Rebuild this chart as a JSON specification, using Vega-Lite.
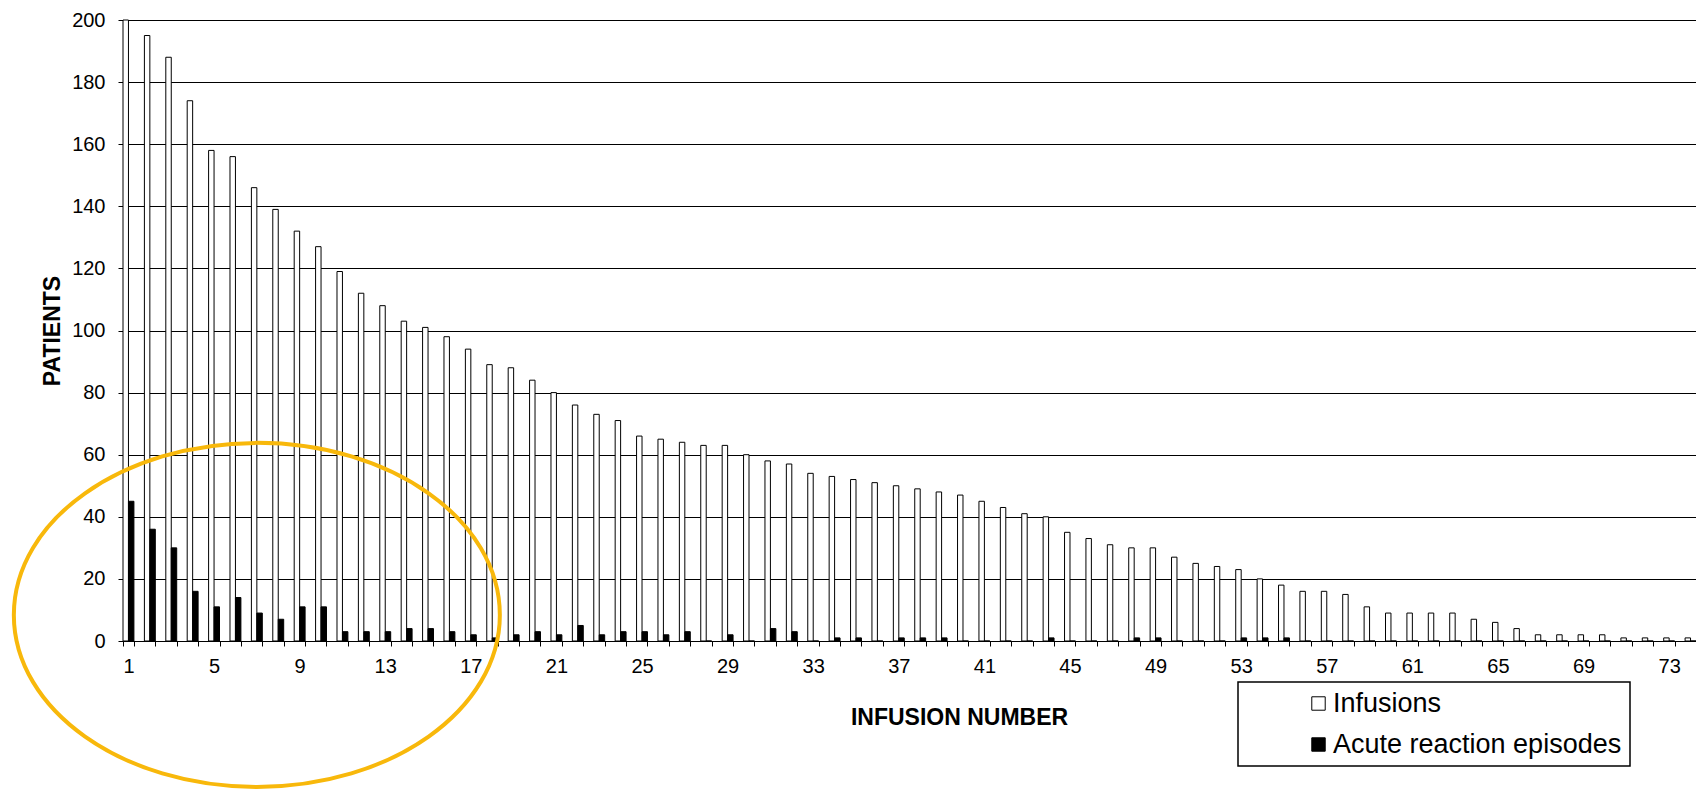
{
  "$schema": "https://vega.github.io/schema/vega-lite/v6.json",
  "width": 1573,
  "height": 621,
  "autosize": {"type": "none"},
  "padding": {"left": 123, "top": 20, "right": 0, "bottom": 150},
  "background": "white",
  "config": {
    "font": "Liberation Sans",
    "view": {"stroke": null},
    "axis": {"labelColor": "black", "titleColor": "black", "domainColor": "black", "tickColor": "black", "labelFont": "Liberation Sans", "titleFont": "Liberation Sans"}
  },
  "datasets": {
    "bars": [
      {"infusion": 1, "series": "Infusions", "patients": 200}, {"infusion": 1, "series": "Acute reaction episodes", "patients": 45},
      {"infusion": 2, "series": "Infusions", "patients": 195}, {"infusion": 2, "series": "Acute reaction episodes", "patients": 36},
      {"infusion": 3, "series": "Infusions", "patients": 188}, {"infusion": 3, "series": "Acute reaction episodes", "patients": 30},
      {"infusion": 4, "series": "Infusions", "patients": 174}, {"infusion": 4, "series": "Acute reaction episodes", "patients": 16},
      {"infusion": 5, "series": "Infusions", "patients": 158}, {"infusion": 5, "series": "Acute reaction episodes", "patients": 11},
      {"infusion": 6, "series": "Infusions", "patients": 156}, {"infusion": 6, "series": "Acute reaction episodes", "patients": 14},
      {"infusion": 7, "series": "Infusions", "patients": 146}, {"infusion": 7, "series": "Acute reaction episodes", "patients": 9},
      {"infusion": 8, "series": "Infusions", "patients": 139}, {"infusion": 8, "series": "Acute reaction episodes", "patients": 7},
      {"infusion": 9, "series": "Infusions", "patients": 132}, {"infusion": 9, "series": "Acute reaction episodes", "patients": 11},
      {"infusion": 10, "series": "Infusions", "patients": 127}, {"infusion": 10, "series": "Acute reaction episodes", "patients": 11},
      {"infusion": 11, "series": "Infusions", "patients": 119}, {"infusion": 11, "series": "Acute reaction episodes", "patients": 3},
      {"infusion": 12, "series": "Infusions", "patients": 112}, {"infusion": 12, "series": "Acute reaction episodes", "patients": 3},
      {"infusion": 13, "series": "Infusions", "patients": 108}, {"infusion": 13, "series": "Acute reaction episodes", "patients": 3},
      {"infusion": 14, "series": "Infusions", "patients": 103}, {"infusion": 14, "series": "Acute reaction episodes", "patients": 4},
      {"infusion": 15, "series": "Infusions", "patients": 101}, {"infusion": 15, "series": "Acute reaction episodes", "patients": 4},
      {"infusion": 16, "series": "Infusions", "patients": 98}, {"infusion": 16, "series": "Acute reaction episodes", "patients": 3},
      {"infusion": 17, "series": "Infusions", "patients": 94}, {"infusion": 17, "series": "Acute reaction episodes", "patients": 2},
      {"infusion": 18, "series": "Infusions", "patients": 89}, {"infusion": 18, "series": "Acute reaction episodes", "patients": 1},
      {"infusion": 19, "series": "Infusions", "patients": 88}, {"infusion": 19, "series": "Acute reaction episodes", "patients": 2},
      {"infusion": 20, "series": "Infusions", "patients": 84}, {"infusion": 20, "series": "Acute reaction episodes", "patients": 3},
      {"infusion": 21, "series": "Infusions", "patients": 80}, {"infusion": 21, "series": "Acute reaction episodes", "patients": 2},
      {"infusion": 22, "series": "Infusions", "patients": 76}, {"infusion": 22, "series": "Acute reaction episodes", "patients": 5},
      {"infusion": 23, "series": "Infusions", "patients": 73}, {"infusion": 23, "series": "Acute reaction episodes", "patients": 2},
      {"infusion": 24, "series": "Infusions", "patients": 71}, {"infusion": 24, "series": "Acute reaction episodes", "patients": 3},
      {"infusion": 25, "series": "Infusions", "patients": 66}, {"infusion": 25, "series": "Acute reaction episodes", "patients": 3},
      {"infusion": 26, "series": "Infusions", "patients": 65}, {"infusion": 26, "series": "Acute reaction episodes", "patients": 2},
      {"infusion": 27, "series": "Infusions", "patients": 64}, {"infusion": 27, "series": "Acute reaction episodes", "patients": 3},
      {"infusion": 28, "series": "Infusions", "patients": 63}, {"infusion": 28, "series": "Acute reaction episodes", "patients": 0},
      {"infusion": 29, "series": "Infusions", "patients": 63}, {"infusion": 29, "series": "Acute reaction episodes", "patients": 2},
      {"infusion": 30, "series": "Infusions", "patients": 60}, {"infusion": 30, "series": "Acute reaction episodes", "patients": 0},
      {"infusion": 31, "series": "Infusions", "patients": 58}, {"infusion": 31, "series": "Acute reaction episodes", "patients": 4},
      {"infusion": 32, "series": "Infusions", "patients": 57}, {"infusion": 32, "series": "Acute reaction episodes", "patients": 3},
      {"infusion": 33, "series": "Infusions", "patients": 54}, {"infusion": 33, "series": "Acute reaction episodes", "patients": 0},
      {"infusion": 34, "series": "Infusions", "patients": 53}, {"infusion": 34, "series": "Acute reaction episodes", "patients": 1},
      {"infusion": 35, "series": "Infusions", "patients": 52}, {"infusion": 35, "series": "Acute reaction episodes", "patients": 1},
      {"infusion": 36, "series": "Infusions", "patients": 51}, {"infusion": 36, "series": "Acute reaction episodes", "patients": 0},
      {"infusion": 37, "series": "Infusions", "patients": 50}, {"infusion": 37, "series": "Acute reaction episodes", "patients": 1},
      {"infusion": 38, "series": "Infusions", "patients": 49}, {"infusion": 38, "series": "Acute reaction episodes", "patients": 1},
      {"infusion": 39, "series": "Infusions", "patients": 48}, {"infusion": 39, "series": "Acute reaction episodes", "patients": 1},
      {"infusion": 40, "series": "Infusions", "patients": 47}, {"infusion": 40, "series": "Acute reaction episodes", "patients": 0},
      {"infusion": 41, "series": "Infusions", "patients": 45}, {"infusion": 41, "series": "Acute reaction episodes", "patients": 0},
      {"infusion": 42, "series": "Infusions", "patients": 43}, {"infusion": 42, "series": "Acute reaction episodes", "patients": 0},
      {"infusion": 43, "series": "Infusions", "patients": 41}, {"infusion": 43, "series": "Acute reaction episodes", "patients": 0},
      {"infusion": 44, "series": "Infusions", "patients": 40}, {"infusion": 44, "series": "Acute reaction episodes", "patients": 1},
      {"infusion": 45, "series": "Infusions", "patients": 35}, {"infusion": 45, "series": "Acute reaction episodes", "patients": 0},
      {"infusion": 46, "series": "Infusions", "patients": 33}, {"infusion": 46, "series": "Acute reaction episodes", "patients": 0},
      {"infusion": 47, "series": "Infusions", "patients": 31}, {"infusion": 47, "series": "Acute reaction episodes", "patients": 0},
      {"infusion": 48, "series": "Infusions", "patients": 30}, {"infusion": 48, "series": "Acute reaction episodes", "patients": 1},
      {"infusion": 49, "series": "Infusions", "patients": 30}, {"infusion": 49, "series": "Acute reaction episodes", "patients": 1},
      {"infusion": 50, "series": "Infusions", "patients": 27}, {"infusion": 50, "series": "Acute reaction episodes", "patients": 0},
      {"infusion": 51, "series": "Infusions", "patients": 25}, {"infusion": 51, "series": "Acute reaction episodes", "patients": 0},
      {"infusion": 52, "series": "Infusions", "patients": 24}, {"infusion": 52, "series": "Acute reaction episodes", "patients": 0},
      {"infusion": 53, "series": "Infusions", "patients": 23}, {"infusion": 53, "series": "Acute reaction episodes", "patients": 1},
      {"infusion": 54, "series": "Infusions", "patients": 20}, {"infusion": 54, "series": "Acute reaction episodes", "patients": 1},
      {"infusion": 55, "series": "Infusions", "patients": 18}, {"infusion": 55, "series": "Acute reaction episodes", "patients": 1},
      {"infusion": 56, "series": "Infusions", "patients": 16}, {"infusion": 56, "series": "Acute reaction episodes", "patients": 0},
      {"infusion": 57, "series": "Infusions", "patients": 16}, {"infusion": 57, "series": "Acute reaction episodes", "patients": 0},
      {"infusion": 58, "series": "Infusions", "patients": 15}, {"infusion": 58, "series": "Acute reaction episodes", "patients": 0},
      {"infusion": 59, "series": "Infusions", "patients": 11}, {"infusion": 59, "series": "Acute reaction episodes", "patients": 0},
      {"infusion": 60, "series": "Infusions", "patients": 9}, {"infusion": 60, "series": "Acute reaction episodes", "patients": 0},
      {"infusion": 61, "series": "Infusions", "patients": 9}, {"infusion": 61, "series": "Acute reaction episodes", "patients": 0},
      {"infusion": 62, "series": "Infusions", "patients": 9}, {"infusion": 62, "series": "Acute reaction episodes", "patients": 0},
      {"infusion": 63, "series": "Infusions", "patients": 9}, {"infusion": 63, "series": "Acute reaction episodes", "patients": 0},
      {"infusion": 64, "series": "Infusions", "patients": 7}, {"infusion": 64, "series": "Acute reaction episodes", "patients": 0},
      {"infusion": 65, "series": "Infusions", "patients": 6}, {"infusion": 65, "series": "Acute reaction episodes", "patients": 0},
      {"infusion": 66, "series": "Infusions", "patients": 4}, {"infusion": 66, "series": "Acute reaction episodes", "patients": 0},
      {"infusion": 67, "series": "Infusions", "patients": 2}, {"infusion": 67, "series": "Acute reaction episodes", "patients": 0},
      {"infusion": 68, "series": "Infusions", "patients": 2}, {"infusion": 68, "series": "Acute reaction episodes", "patients": 0},
      {"infusion": 69, "series": "Infusions", "patients": 2}, {"infusion": 69, "series": "Acute reaction episodes", "patients": 0},
      {"infusion": 70, "series": "Infusions", "patients": 2}, {"infusion": 70, "series": "Acute reaction episodes", "patients": 0},
      {"infusion": 71, "series": "Infusions", "patients": 1}, {"infusion": 71, "series": "Acute reaction episodes", "patients": 0},
      {"infusion": 72, "series": "Infusions", "patients": 1}, {"infusion": 72, "series": "Acute reaction episodes", "patients": 0},
      {"infusion": 73, "series": "Infusions", "patients": 1}, {"infusion": 73, "series": "Acute reaction episodes", "patients": 0},
      {"infusion": 74, "series": "Infusions", "patients": 1}, {"infusion": 74, "series": "Acute reaction episodes", "patients": 0}
    ],
    "note": [{"infusion": 7, "patients": 8.4}]
  },
  "layer": [
    {
      "data": {"name": "bars"},
      "mark": {"type": "bar", "stroke": "black", "strokeWidth": 1},
      "encoding": {
        "x": {
          "field": "infusion", "type": "ordinal", "title": "INFUSION NUMBER",
          "scale": {"paddingInner": 0.49, "paddingOuter": 0},
          "axis": {
            "labelAngle": 0, "labelOverlap": false,
            "labelExpr": "(datum.value - 1) % 4 === 0 ? datum.label : ''",
            "tickBand": "extent", "tickSize": 5, "labelPadding": 10, "labelFontSize": 20,
            "titleFontSize": 23, "titleFontWeight": "bold", "titleX": 836, "titleY": 76, "titleBaseline": "middle",
            "grid": false
          }
        },
        "xOffset": {"field": "series", "type": "nominal", "scale": {"domain": ["Infusions", "Acute reaction episodes"]}},
        "y": {
          "field": "patients", "type": "quantitative", "stack": null, "title": "PATIENTS",
          "scale": {"domain": [0, 200], "nice": false},
          "axis": {
            "values": [0, 20, 40, 60, 80, 100, 120, 140, 160, 180, 200],
            "grid": true, "gridColor": "black", "gridWidth": 1, "gridOpacity": 1,
            "tickSize": 5, "labelPadding": 13, "labelFontSize": 20,
            "titleFontSize": 23, "titleFontWeight": "bold", "titleX": -71, "titleBaseline": "middle"
          }
        },
        "fill": {
          "field": "series", "type": "nominal",
          "scale": {"domain": ["Infusions", "Acute reaction episodes"], "range": ["white", "black"]},
          "legend": {
            "orient": "none", "legendX": 1115, "legendY": 662, "title": null,
            "labelFontSize": 27, "labelColor": "black", "labelLimit": 500, "symbolType": "square", "symbolSize": 180,
            "symbolStrokeColor": "black", "symbolStrokeWidth": 1,
            "strokeColor": "black", "fillColor": "white",
            "padding": 8, "rowPadding": 13, "symbolOffset": 59, "labelOffset": 1,
            "encode": {"legend": {"update": {"strokeWidth": {"value": 1.5}}}}
          }
        }
      }
    },
    {
      "data": {"name": "note"},
      "mark": {
        "type": "point",
        "shape": "M 1 0 C 1 0.391 0.552 0.708 0 0.708 C -0.552 0.708 -1 0.391 -1 0 C -1 -0.391 -0.552 -0.708 0 -0.708 C 0.552 -0.708 1 -0.391 1 0 Z",
        "filled": false, "stroke": "#F8B80B", "strokeWidth": 4, "size": 236196, "opacity": 1
      },
      "encoding": {
        "x": {"field": "infusion", "type": "ordinal", "title": "INFUSION NUMBER"},
        "y": {"field": "patients", "type": "quantitative", "title": "PATIENTS"}
      }
    }
  ]
}
